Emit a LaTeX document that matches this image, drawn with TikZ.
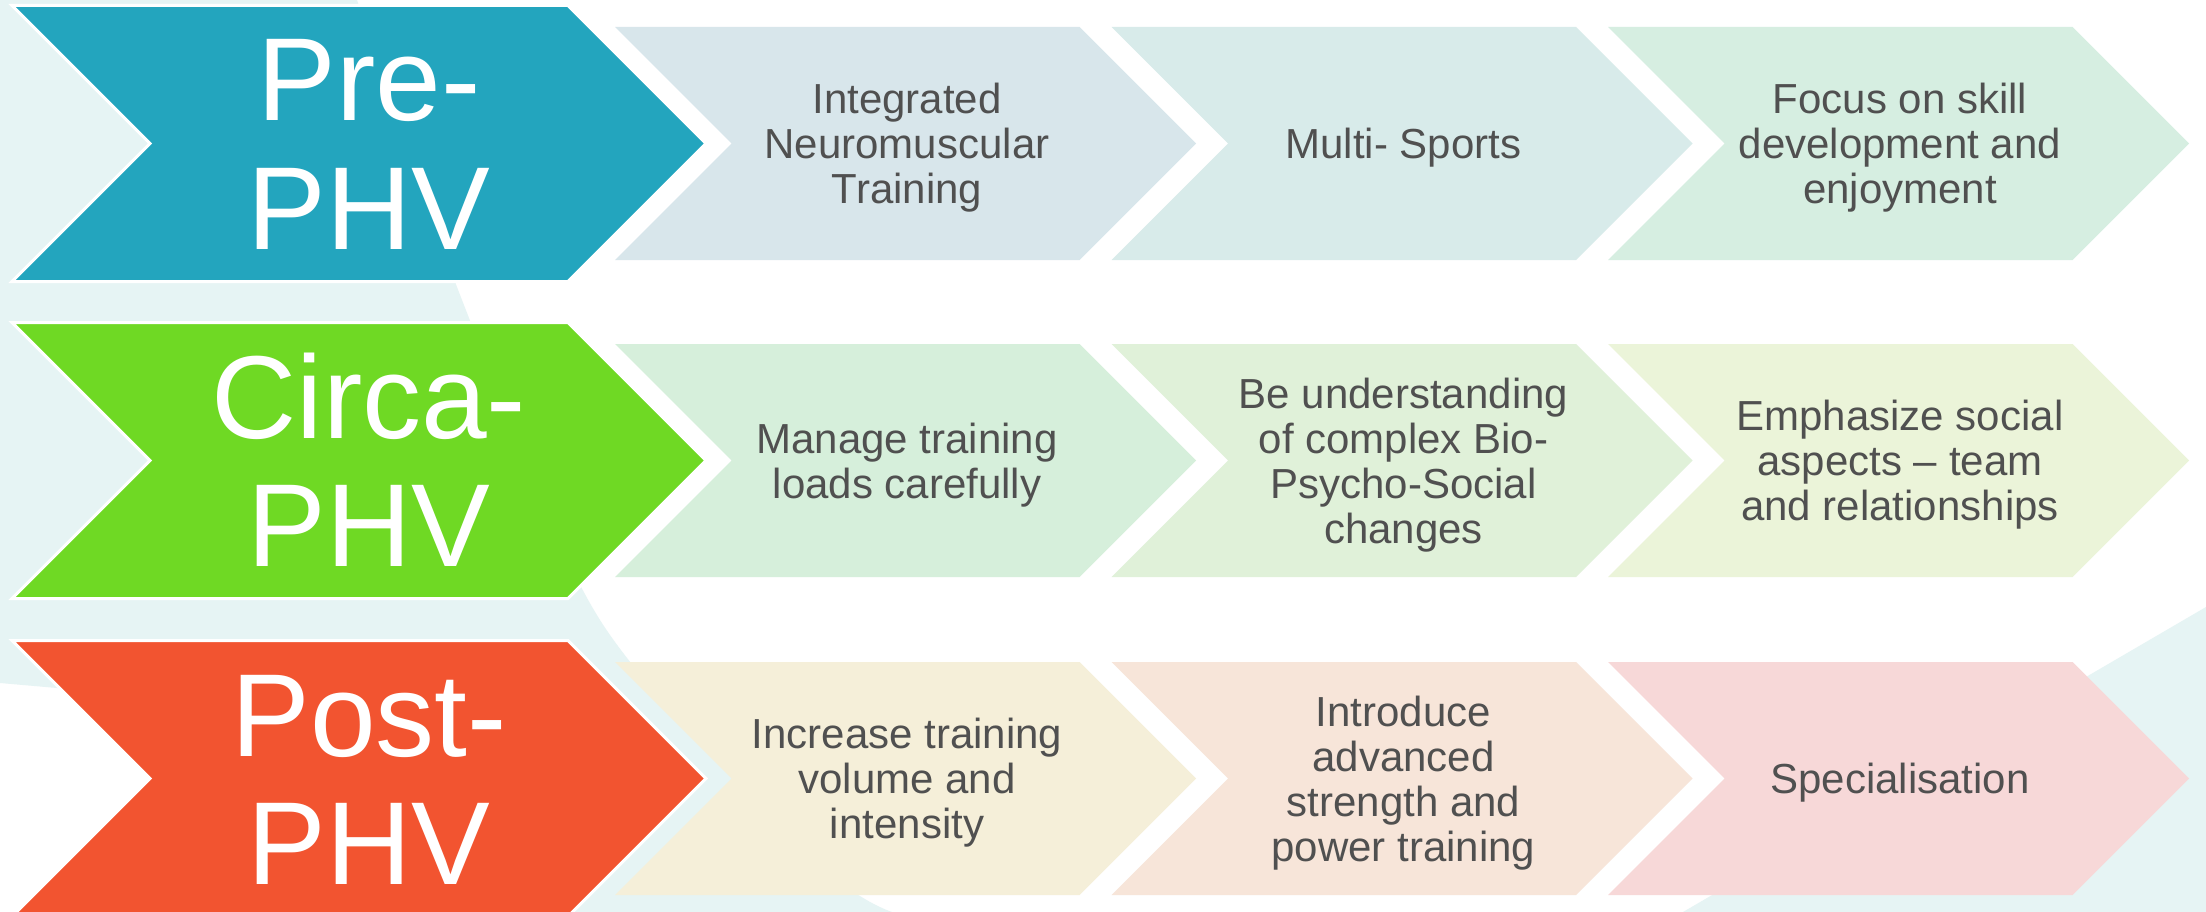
\documentclass[tikz,border=0pt]{standalone}
\usepackage{fontspec}
\setmainfont{Liberation Sans}
\definecolor{bgpale}{HTML}{E6F4F4}
\definecolor{preC}{HTML}{23A5BE}
\definecolor{circaC}{HTML}{6FD924}
\definecolor{postC}{HTML}{F25430}
\definecolor{txtgrey}{HTML}{505050}
\definecolor{fa}{HTML}{D8E6EB}
\definecolor{fb}{HTML}{D8EBEA}
\definecolor{fc}{HTML}{D6EEE1}
\definecolor{fd}{HTML}{D6EFDB}
\definecolor{fe}{HTML}{E0F1D9}
\definecolor{ff}{HTML}{EBF4D9}
\definecolor{fg}{HTML}{F5EFD9}
\definecolor{fh}{HTML}{F7E5D9}
\definecolor{fi}{HTML}{F7D8D8}
% left x, center y, width, half height
\newcommand\chevpath[4]{(#1,#2-#4) -- (#1+#3-#4,#2-#4) -- (#1+#3,#2) -- (#1+#3-#4,#2+#4) -- (#1,#2+#4) -- (#1+#4,#2) -- cycle}
\begin{document}
\begin{tikzpicture}[x=1pt,y=-1pt,
  bigchev/.style={draw=white,line width=3pt,line join=miter},
  bigtxt/.style={font=\fontsize{118}{128}\selectfont,text=white,align=center,inner sep=0pt,anchor=base},
  smalltxt/.style={font=\fontsize{42}{45}\selectfont,text=txtgrey,align=center,inner sep=0pt,anchor=base}]
\useasboundingbox (0,0) rectangle (2206,912);
\fill[white] (0,0) rectangle (2206,912);
% background shapes
\fill[bgpale] (0,0) -- plot[smooth] coordinates {(357,0) (462,300) (600,620) (815,860) (892,912)} -- (400,912) -- (100,695) -- (57,688) -- (0,683) -- cycle;
\fill[bgpale] (2206,607) -- (1683,912) -- (2206,912) -- cycle;
% big chevrons
\filldraw[bigchev,fill=preC] \chevpath{12}{143.5}{694}{138};
\filldraw[bigchev,fill=circaC] \chevpath{12}{460.5}{694}{138};
\filldraw[bigchev,fill=postC] \chevpath{12}{778.5}{694}{138};
% small chevrons row 1
\fill[fa] \chevpath{615}{143.5}{581}{116.5};
\fill[fb] \chevpath{1111.5}{143.5}{581}{116.5};
\fill[fc] \chevpath{1608}{143.5}{581}{116.5};
% row 2
\fill[fd] \chevpath{615}{460.5}{581}{116.5};
\fill[fe] \chevpath{1111.5}{460.5}{581}{116.5};
\fill[ff] \chevpath{1608}{460.5}{581}{116.5};
% row 3
\fill[fg] \chevpath{615}{778.5}{581}{116.5};
\fill[fh] \chevpath{1111.5}{778.5}{581}{116.5};
\fill[fi] \chevpath{1608}{778.5}{581}{116.5};
% big labels (anchor = baseline of last line)
\node[bigtxt] (pre) at (369,249) {Pre-\\PHV};
\node[bigtxt] (circa) at (369,566) {Circa-\\PHV};
\node[bigtxt] (post) at (369,884) {Post-\\PHV};
% small labels
\node[smalltxt] (a1) at (907,203.5) {Integrated\\Neuromuscular\\Training};
\node[smalltxt] (a2) at (1403.5,158.5) {Multi- Sports};
\node[smalltxt] (a3) at (1900,203.5) {Focus on skill\\development and\\enjoyment};
\node[smalltxt] (b1) at (907,498) {Manage training\\loads carefully};
\node[smalltxt] (b2) at (1403.5,543) {Be understanding\\of complex Bio-\\Psycho-Social\\changes};
\node[smalltxt] (b3) at (1900,520.5) {Emphasize social\\aspects – team\\and relationships};
\node[smalltxt] (c1) at (907,838.5) {Increase training\\volume and\\intensity};
\node[smalltxt] (c2) at (1403.5,861) {Introduce\\advanced\\strength and\\power training};
\node[smalltxt] (c3) at (1900,793.5) {Specialisation};
\end{tikzpicture}
\end{document}
